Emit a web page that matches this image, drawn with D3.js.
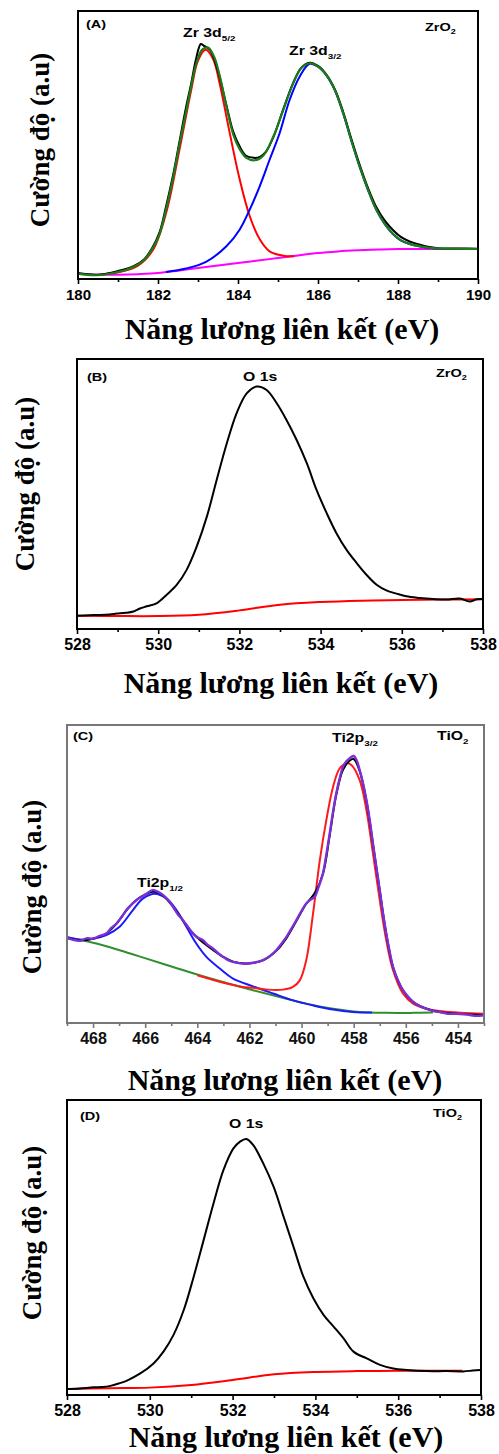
<!DOCTYPE html>
<html>
<head>
<meta charset="utf-8">
<script src="https://cdn.jsdelivr.net/npm/d3@7"></script>
<style>
  body { margin: 0; background: #fff; }
  svg { display: block; }
</style>
</head>
<body>
<div id="chart"></div>
<script>
// (A) Zr 3d, ZrO2
var aRaw = [[180.0,2.2],[180.5,1.6],[181.0,3.0],[181.4,4.9],[181.65,7.3],[181.85,11.5],[182.04,17.5],[182.2,27],[182.38,39],[182.54,51.5],[182.7,64],[182.83,73],[182.95,82],[183.07,87.7],[183.15,87.0],[183.3,85.5],[183.5,77.5],[183.7,65.5],[183.88,55],[184.04,49.5],[184.2,46],[184.4,45.2],[184.55,45.6],[184.7,47.5],[184.9,53.5],[185.13,63.3],[185.38,73.2],[185.58,78.8],[185.79,80.7],[186.0,79.5],[186.21,76.3],[186.42,70.8],[186.63,62.3],[186.83,52.5],[187.04,42.7],[187.25,34],[187.46,26.8],[187.67,21.8],[187.88,18.2],[188.08,15.6],[188.29,14.0],[188.5,13.0],[188.75,12.0],[189,11.5],[189.5,11.4],[190,11.3]];
var aFit = [[180.0,2.0],[180.46,1.4],[181.0,2.6],[181.38,4.5],[181.63,6.8],[181.88,11.8],[182.04,16.8],[182.21,26.5],[182.38,38],[182.54,50.5],[182.71,63],[182.83,72],[182.96,80.5],[183.1,85.5],[183.25,86.4],[183.4,83],[183.54,76],[183.71,64.5],[183.88,54],[184.04,48.5],[184.21,45.2],[184.42,44.3],[184.63,46],[184.88,53],[185.13,63],[185.38,73],[185.58,78.6],[185.79,80.5],[186.0,79.3],[186.21,76.1],[186.42,70.6],[186.63,61.9],[186.83,51.9],[187.04,42],[187.25,33.3],[187.46,25.8],[187.67,20.6],[187.88,16.8],[188.08,14.4],[188.29,13.1],[188.63,12.0],[188.88,11.5],[189.5,11.3],[190,11.2]];
var aPeak52 = [[180.5,1.6],[181.0,2.5],[181.5,5.0],[181.88,11],[182.21,25],[182.54,48.5],[182.83,70.5],[183.0,81.5],[183.19,85.5],[183.38,82],[183.54,73],[183.79,54.7],[184.04,37.3],[184.29,23.6],[184.54,14.9],[184.79,10.3],[185.13,8.7],[185.4,8.5]];
var aPeak32 = [[182.2,2.6],[182.7,3.9],[183.2,6.4],[183.71,12.2],[184.04,18.4],[184.29,25.8],[184.54,34.5],[184.79,44.5],[185.04,54.4],[185.29,66.8],[185.54,75.5],[185.79,80.3],[186.0,79.2],[186.21,76.0],[186.42,70.5],[186.63,61.8],[186.83,51.8],[187.04,41.9],[187.25,33.2],[187.46,25.7],[187.67,20.5],[187.88,16.7],[188.08,14.3],[188.29,13.0],[188.63,11.9],[189,11.3]];
var aBackground = [[180,1.9],[180.5,1.6],[181,1.6],[181.5,1.8],[182,2.2],[182.5,3.1],[183,4.1],[183.5,5.0],[184,6.0],[184.5,6.9],[185,7.8],[185.5,8.8],[186,9.7],[186.5,10.3],[187,10.7],[187.5,11.0],[188,11.2],[189,11.2],[190,11.2]];

// (B) O 1s, ZrO2
var bRaw = [[528.0,4.9],[528.3,5.1],[528.57,5.2],[528.8,5.4],[528.98,5.7],[529.2,6.0],[529.39,6.5],[529.55,7.6],[529.72,8.4],[529.97,9.6],[530.21,12.7],[530.46,16.4],[530.7,21.9],[530.95,30.6],[531.2,41.7],[531.44,55.2],[531.69,68.8],[531.93,79.9],[532.18,87.3],[532.43,89.8],[532.67,88.5],[532.92,83.6],[533.16,77.4],[533.41,70.0],[533.66,61.4],[533.9,51.5],[534.15,42.9],[534.39,35.5],[534.64,29.3],[534.89,24.4],[535.13,20.1],[535.38,16.4],[535.62,14.3],[535.87,13.1],[536.11,12.1],[536.44,11.5],[536.77,11.1],[537.1,10.9],[537.43,11.3],[537.67,10.2],[537.85,11.0],[538,11.1]];
var bBackground = [[528,4.9],[529,4.8],[530,4.8],[531,5.3],[532,6.9],[533,9.0],[534,10.0],[535,10.5],[536,10.7],[537,10.9],[538,11.0]];

// (C) Ti 2p, TiO2
var cRaw = [[469.02,28.7],[468.75,27.9],[468.51,27.6],[468.25,28.4],[468.0,28.3],[467.75,29.2],[467.49,30.0],[467.3,31.9],[467.1,33.4],[466.9,35.6],[466.72,37.9],[466.52,39.8],[466.34,41.2],[466.15,42.3],[465.95,43.4],[465.72,44.6],[465.5,44.0],[465.31,42.9],[465.1,41.1],[464.93,39.0],[464.75,36.5],[464.55,34.5],[464.35,32.1],[464.16,30.0],[463.97,28.6],[463.78,27.8],[463.6,26.2],[463.4,25.0],[463.2,23.4],[463.01,22.2],[462.8,21.0],[462.63,20.5],[462.4,20.1],[462.12,19.9],[461.8,20.3],[461.48,21.1],[461.2,22.6],[460.97,24.4],[460.78,26.5],[460.58,28.9],[460.4,31.5],[460.2,34.5],[460.0,37.6],[459.82,40.1],[459.65,41.4],[459.5,42.3],[459.35,45.5],[459.18,50.2],[459.05,56.5],[458.92,63.6],[458.8,70.5],[458.67,77.0],[458.54,82.0],[458.41,86.0],[458.28,87.8],[458.16,88.8],[458.0,89.6],[457.88,88.0],[457.77,84.9],[457.64,80.4],[457.51,74.8],[457.38,67.8],[457.26,60.2],[457.13,52.3],[457.0,44.6],[456.88,37.0],[456.75,30.0],[456.62,24.0],[456.49,18.8],[456.3,14.3],[456.11,11.0],[455.9,8.7],[455.72,7.1],[455.45,5.6],[455.21,4.8],[454.95,4.0],[454.7,3.7],[454.45,3.2],[454.18,3.1],[453.9,3.0],[453.68,2.9],[453.35,2.4],[453.0,2.6]];
var cFit = [[469.02,28.5],[468.5,27.8],[468.0,28.3],[467.5,30.0],[467.1,33.3],[466.72,37.8],[466.34,41.3],[465.95,43.3],[465.72,44.0],[465.5,43.8],[465.31,42.8],[464.93,39.0],[464.55,34.4],[464.16,30.0],[463.78,27.0],[463.4,24.5],[463.01,22.2],[462.63,20.6],[462.12,20.0],[461.48,21.0],[460.97,24.2],[460.58,28.5],[460.2,34.2],[459.82,40.0],[459.5,43.5],[459.18,50.0],[458.92,63.0],[458.67,76.5],[458.41,85.0],[458.16,88.0],[458.0,88.6],[457.77,84.5],[457.51,74.5],[457.26,60.0],[457.0,44.5],[456.75,30.0],[456.49,18.8],[456.11,11.0],[455.72,7.1],[455.21,4.8],[454.7,3.7],[454.18,3.2],[453.68,2.9],[453.0,2.7]];
var cPeak32 = [[464.0,16.0],[463.0,13.5],[462.3,12.2],[461.86,11.8],[461.3,11.2],[460.71,11.2],[460.33,12.1],[460.07,14.3],[459.82,21.1],[459.56,36.7],[459.3,54.6],[459.05,68.1],[458.79,79.3],[458.54,85.4],[458.28,87.1],[458.09,86.6],[457.77,81.5],[457.51,71.4],[457.26,56.9],[457.0,41.2],[456.75,27.8],[456.49,17.7],[456.11,9.9],[455.72,6.5],[455.21,4.8],[454.7,4.0],[453.9,3.4],[453.0,3.1]];
var cPeak12 = [[469.02,28.9],[468.5,28.0],[468.0,28.3],[467.49,29.5],[466.98,32.3],[466.47,37.9],[466.08,41.8],[465.63,43.4],[465.19,41.8],[464.8,37.9],[464.42,32.3],[464.04,26.7],[463.65,22.2],[463.14,18.3],[462.63,14.9],[461.86,12.3],[461.09,9.9],[460.33,7.6],[459.56,5.9],[458.79,4.5],[458.03,3.7],[457.3,3.5]];
var cBackground = [[469.02,28.7],[468.0,26.9],[466.98,24.4],[465.95,21.6],[464.93,18.8],[463.91,16.0],[462.88,13.4],[461.86,11.0],[460.84,8.7],[459.82,6.5],[458.79,4.8],[457.77,3.7],[456.75,3.4],[455.72,3.4],[454.96,3.5]];

// (D) O 1s, TiO2
var dRaw = [[528.0,2.0],[528.3,2.2],[528.64,2.6],[528.85,2.7],[529.05,3.1],[529.25,3.9],[529.45,4.9],[529.77,7.3],[530.09,10.7],[530.33,14.7],[530.57,20.3],[530.82,28.8],[531.06,40.1],[531.3,52.5],[531.54,65.0],[531.78,76.3],[532.02,83.6],[532.18,85.9],[532.33,86.8],[532.5,84.7],[532.74,78.5],[532.99,70.6],[533.23,60.5],[533.47,50.3],[533.71,40.1],[533.95,32.8],[534.2,27.1],[534.44,23.2],[534.68,19.2],[534.92,14.7],[535.24,12.4],[535.56,10.2],[535.88,9.0],[536.21,8.5],[536.69,8.1],[537.17,8.1],[537.57,8.0],[537.8,8.3],[538,8.5]];
var dBackground = [[528,2.0],[529,2.3],[530,2.5],[531,3.4],[532,5.1],[533,7.0],[534,7.8],[535,8.1],[536,8.2],[537,8.2],[537.55,8.2]];

// tick labels
var aTicks = [180, 182, 184, 186, 188, 190];
var bTicks = [528, 530, 532, 534, 536, 538];
var cTicks = [468, 466, 464, 462, 460, 458, 456, 454];
var dTicks = [528, 530, 532, 534, 536, 538];

var xTitle = "Năng lương liên kết (eV)";
var yTitle = "Cường độ (a.u)";

var W = 499, H = 1454;
var svg = d3.select("#chart").append("svg").attr("width", W).attr("height", H);
svg.append("rect").attr("width", W).attr("height", H).attr("fill", "#fff");

var sans = "'Liberation Sans', Arial, sans-serif";
var serif = "'Liberation Serif', 'Times New Roman', serif";

// text with optional subscript: parts = [[text, isSub], ...]
// the source picture is stretched sideways, so the small labels are too
function label(g, x, y, parts, size, color) {
  var t = g.append("text")
    .attr("transform", "translate(" + x + "," + y + ") scale(1.32,1)")
    .attr("font-family", sans).attr("font-weight", "bold")
    .attr("font-size", size).attr("fill", color || "#000");
  parts.forEach(function (p) {
    var s = t.append("tspan").text(p[0]);
    if (p[1]) s.attr("font-size", size * 0.62).attr("dy", size * 0.3);
  });
}

function panel(o) {
  var g = svg.append("g");
  var x = d3.scaleLinear().domain(o.xDomain).range([o.left, o.right]);
  var y = d3.scaleLinear().domain([0, 100]).range([o.bottom, o.top]);
  var id = "clip" + o.name;
  svg.append("clipPath").attr("id", id).append("rect")
    .attr("x", o.left).attr("y", o.top)
    .attr("width", o.right - o.left).attr("height", o.bottom - o.top);

  var line = d3.line()
    .x(function (d) { return x(d[0]); })
    .y(function (d) { return y(d[1]); })
    .curve(d3.curveCatmullRom.alpha(0.5));

  var curves = g.append("g").attr("clip-path", "url(#" + id + ")");
  o.series.forEach(function (s) {
    curves.append("path").datum(s.data).attr("d", line)
      .attr("fill", "none").attr("stroke", s.color)
      .attr("stroke-width", s.width || 2)
      .attr("stroke-linejoin", "round");
  });

  // minor + major ticks along the bottom
  var minor = [];
  for (var i = 0; i < o.ticks.length - 1; i++) minor.push((o.ticks[i] + o.ticks[i + 1]) / 2);
  if (o.extraMinor) minor = minor.concat(o.extraMinor);
  var axMinor = g.append("g").attr("transform", "translate(0," + o.bottom + ")")
    .call(d3.axisBottom(x).tickValues(minor).tickSize(3).tickFormat(""));
  var axMajor = g.append("g").attr("transform", "translate(0," + o.bottom + ")")
    .call(d3.axisBottom(x).tickValues(o.ticks).tickSize(5).tickPadding(5).tickFormat(d3.format("d")));
  [axMinor, axMajor].forEach(function (a) {
    a.select(".domain").remove();
    a.selectAll("line").attr("stroke", o.frame).attr("stroke-width", 1.6);
  });
  axMajor.selectAll("text").attr("font-family", sans).attr("font-weight", "bold")
    .attr("font-size", o.tickSize).attr("fill", o.tickColor || "#000");

  g.append("rect").attr("x", o.left).attr("y", o.top)
    .attr("width", o.right - o.left).attr("height", o.bottom - o.top)
    .attr("fill", "none").attr("stroke", o.frame).attr("stroke-width", 2);

  g.append("text").attr("x", o.xTitle[0]).attr("y", o.xTitle[1])
    .attr("text-anchor", "middle").attr("font-family", serif).attr("font-weight", "bold")
    .attr("font-size", 30).attr("fill", "#000").text(xTitle);
  g.append("text").attr("transform", "translate(" + o.yTitle[0] + "," + o.yTitle[1] + ") rotate(-90)")
    .attr("text-anchor", "middle").attr("dominant-baseline", "central")
    .attr("font-family", serif).attr("font-weight", "bold")
    .attr("font-size", 27).attr("fill", "#000").text(yTitle);

  o.labels.forEach(function (l) { label(g, l.x, l.y, l.parts, l.size, l.color); });
}

panel({
  name: "A", xDomain: [180, 190], left: 78, right: 478, top: 11, bottom: 279,
  ticks: aTicks, tickSize: 15, frame: "#000",
  xTitle: [282, 339], yTitle: [40, 140],
  series: [
    { data: aBackground, color: "#ff00ff" },
    { data: aPeak52, color: "#ff0000" },
    { data: aPeak32, color: "#0000ff" },
    { data: aRaw, color: "#000" },
    { data: aFit, color: "#1a7d1a", width: 2.2 }
  ],
  labels: [
    { x: 86, y: 28, parts: [["(A)"]], size: 11 },
    { x: 183, y: 37, parts: [["Zr 3d"], ["5/2", true]], size: 12 },
    { x: 289, y: 55, parts: [["Zr 3d"], ["3/2", true]], size: 12 },
    { x: 425, y: 31, parts: [["ZrO"], ["2", true]], size: 11 }
  ]
});

panel({
  name: "B", xDomain: [528, 538], left: 77, right: 483, top: 359, bottom: 629,
  ticks: bTicks, tickSize: 16, frame: "#000",
  xTitle: [281, 693], yTitle: [25, 484],
  series: [
    { data: bBackground, color: "#ff0000" },
    { data: bRaw, color: "#000" }
  ],
  labels: [
    { x: 87, y: 381, parts: [["(B)"]], size: 11 },
    { x: 243, y: 381, parts: [["O 1s"]], size: 12 },
    { x: 436, y: 377, parts: [["ZrO"], ["2", true]], size: 11 }
  ]
});

panel({
  name: "C", xDomain: [469, 453], left: 67, right: 484, top: 725, bottom: 1023,
  ticks: cTicks, tickSize: 16, frame: "#777", tickColor: "#111",
  extraMinor: [469, 453],
  xTitle: [285, 1090], yTitle: [32, 887],
  series: [
    { data: cBackground, color: "#2f8f2f" },
    { data: cPeak12, color: "#1a1aff" },
    { data: cPeak32, color: "#ff1a1a" },
    { data: cFit, color: "#000" },
    { data: cRaw, color: "#7b2fd6", width: 2.4 }
  ],
  labels: [
    { x: 73, y: 740, parts: [["(C)"]], size: 11 },
    { x: 332, y: 742, parts: [["Ti2p"], ["3/2", true]], size: 12 },
    { x: 437, y: 740, parts: [["TiO"], ["2", true]], size: 12 },
    { x: 137, y: 887, parts: [["Ti2p"], ["1/2", true]], size: 12 }
  ]
});

panel({
  name: "D", xDomain: [528, 538], left: 67, right: 481, top: 1100, bottom: 1395,
  ticks: dTicks, tickSize: 16, frame: "#000",
  xTitle: [286, 1447], yTitle: [32, 1233],
  series: [
    { data: dBackground, color: "#ff0000" },
    { data: dRaw, color: "#000" }
  ],
  labels: [
    { x: 80, y: 1120, parts: [["(D)"]], size: 11 },
    { x: 229, y: 1128, parts: [["O 1s"]], size: 12 },
    { x: 433, y: 1117, parts: [["TiO"], ["2", true]], size: 11 }
  ]
});
</script>
</body>
</html>
